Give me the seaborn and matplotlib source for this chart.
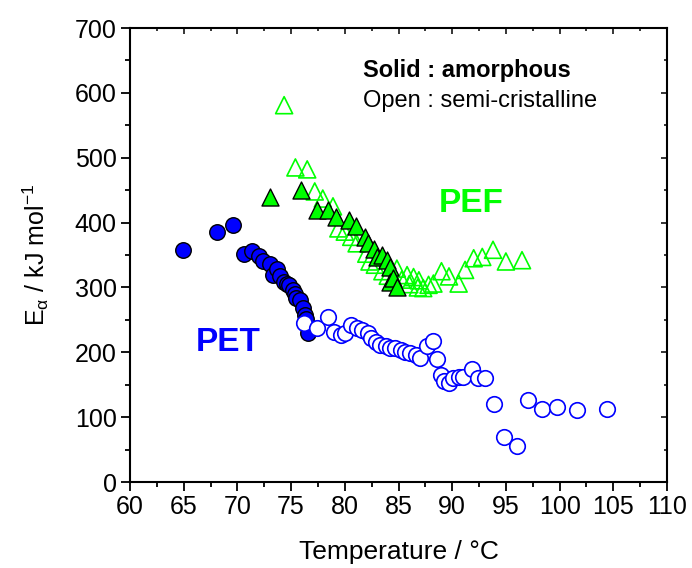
import numpy as np
import pandas as pd
import matplotlib
matplotlib.use("Agg")
import matplotlib.pyplot as plt
import seaborn as sns
from matplotlib.ticker import MultipleLocator

# ---------------- data ----------------
pet_am_T = [64.9, 68.1, 69.6, 70.6, 71.4, 72.0, 72.4, 73.0, 73.3, 73.7, 74.0, 74.3,
            74.6, 74.85, 75.2, 75.4, 75.5, 75.8, 76.1, 76.3, 76.4, 76.6]
pet_am_E = [358, 386, 397, 352, 356, 348, 341, 336, 319, 328, 317, 309,
            306, 304, 296, 290, 283, 281, 268, 258, 252, 229]

pet_sc_T = [76.2, 77.4, 78.4, 78.95, 79.6, 80.0, 80.6, 81.1, 81.6, 82.2, 82.4, 82.9,
            83.3, 83.8, 84.2, 84.7, 85.2, 85.6, 86.1, 86.6, 87.0, 87.65, 88.2, 88.6,
            89.0, 89.2, 89.7, 90.1, 90.6, 91.05, 91.8, 92.4, 93.1, 93.85, 94.8, 96.0,
            97.1, 98.4, 99.8, 101.6, 104.4]
pet_sc_E = [245, 237, 254, 232, 227, 229, 242, 237, 234, 229, 222, 216,
            211, 209, 206, 206, 204, 201, 199, 196, 191, 209, 218, 190,
            165, 155, 152, 160, 162, 162, 175, 161, 160, 120, 69, 55,
            126, 112, 115, 111, 113]

pef_am_T = [73.0, 75.9, 77.4, 78.4, 79.2, 80.35, 81.0, 81.9, 82.2, 82.7, 83.0, 83.45,
            83.9, 84.2, 84.2, 84.5, 84.85]
pef_am_E = [440, 450, 419, 419, 409, 404, 394, 378, 368, 359, 347, 350,
            342, 332, 309, 314, 301]

pef_sc_T = [74.35, 75.4, 76.5, 77.2, 77.95, 78.9, 79.4, 80.0, 80.6, 81.1, 82.0, 82.3,
            82.8, 83.5, 84.0, 84.85, 85.3, 85.8, 86.0, 86.4, 86.8, 86.9, 87.3, 87.8,
            88.25, 89.0, 89.7, 90.6, 91.2, 92.0, 92.8, 93.8, 95.0, 96.5]
pef_sc_E = [581, 485, 482, 448, 437, 425, 391, 386, 378, 368, 352, 340,
            335, 325, 318, 329, 312, 319, 305, 316, 300, 311, 299, 304,
            306, 325, 317, 306, 327, 345, 347, 358, 340, 342]

x_ticks = [60, 65, 70, 75, 80, 85, 90, 95, 100, 105, 110]
y_ticks = [0, 100, 200, 300, 400, 500, 600, 700]

# ---------------- style ----------------
sns.set_theme(style="white")
plt.rcParams["font.family"] = ["Liberation Sans", "DejaVu Sans"]
plt.rcParams["mathtext.fontset"] = "custom"
plt.rcParams["mathtext.rm"] = "Liberation Sans"
plt.rcParams["mathtext.it"] = "Liberation Sans"
plt.rcParams["mathtext.bf"] = "Liberation Sans:bold"

BLUE = "#0000FF"
GREEN = "#00FF00"

fig = plt.figure(figsize=(6.92, 5.68), dpi=100)
ax = fig.add_axes([130 / 692, 1 - 482 / 568, (667 - 130) / 692, (482 - 28) / 568])

df_pet_am = pd.DataFrame({"T": pet_am_T, "E": pet_am_E})
df_pet_sc = pd.DataFrame({"T": pet_sc_T, "E": pet_sc_E})
df_pef_am = pd.DataFrame({"T": pef_am_T, "E": pef_am_E})
df_pef_sc = pd.DataFrame({"T": pef_sc_T, "E": pef_sc_E})

sns.scatterplot(data=df_pet_am, x="T", y="E", ax=ax, marker="o", s=125,
                color=BLUE, edgecolor="black", linewidth=1.0, zorder=3)
sns.scatterplot(data=df_pet_sc, x="T", y="E", ax=ax, marker="o", s=125,
                facecolor="white", edgecolor=BLUE, linewidth=1.2, zorder=4)
sns.scatterplot(data=df_pef_sc, x="T", y="E", ax=ax, marker="^", s=150,
                facecolor="none", edgecolor=GREEN, linewidth=1.2, zorder=3)
sns.scatterplot(data=df_pef_am, x="T", y="E", ax=ax, marker="^", s=150,
                color=GREEN, edgecolor="black", linewidth=1.0, zorder=4)

ax.set_xlim(60, 110)
ax.set_ylim(0, 700)
ax.set_xticks(x_ticks)
ax.set_xticklabels([str(t) for t in x_ticks])
ax.set_yticks(y_ticks)
ax.set_yticklabels([str(t) for t in y_ticks])
ax.xaxis.set_minor_locator(MultipleLocator(2.5))
ax.yaxis.set_minor_locator(MultipleLocator(50))

for sp in ax.spines.values():
    sp.set_visible(True)
    sp.set_color("black")
    sp.set_linewidth(1.5)

ax.tick_params(axis="both", which="major", direction="out", length=6.5, width=1.3,
               labelsize=18, colors="black", pad=3, top=False, right=False)
ax.tick_params(axis="both", which="minor", direction="out", length=3.5, width=1.3,
               colors="black", top=False, right=False)
ax.tick_params(axis="both", which="both", bottom=True, left=True)

axt = ax.secondary_xaxis("top")
axt.set_xticks(x_ticks)
axt.xaxis.set_minor_locator(MultipleLocator(2.5))
axt.tick_params(which="major", direction="in", length=4, width=1.3, labeltop=False)
axt.tick_params(which="minor", direction="in", length=2.5, width=1.3)
axr = ax.secondary_yaxis("right")
axr.set_yticks(y_ticks)
axr.yaxis.set_minor_locator(MultipleLocator(50))
axr.tick_params(which="major", direction="in", length=4, width=1.3, labelright=False)
axr.tick_params(which="minor", direction="in", length=2.5, width=1.3)

ax.set_xlabel("Temperature / °C", fontsize=19, color="black", labelpad=15)
ax.set_ylabel(r"E$_\alpha$ / kJ mol$^{-1}$", fontsize=18, color="black", labelpad=17)

ax.text(81.7, 635, "Solid : amorphous", fontsize=17, fontweight="bold",
        color="black", va="center", ha="left")
ax.text(81.7, 588, "Open : semi-cristalline", fontsize=17,
        color="black", va="center", ha="left")
ax.text(69.1, 215, "PET", fontsize=24, fontweight="bold", color=BLUE,
        ha="center", va="center")
ax.text(91.8, 430, "PEF", fontsize=24, fontweight="bold", color=GREEN,
        ha="center", va="center")

fig.savefig("out.png", dpi=100)
